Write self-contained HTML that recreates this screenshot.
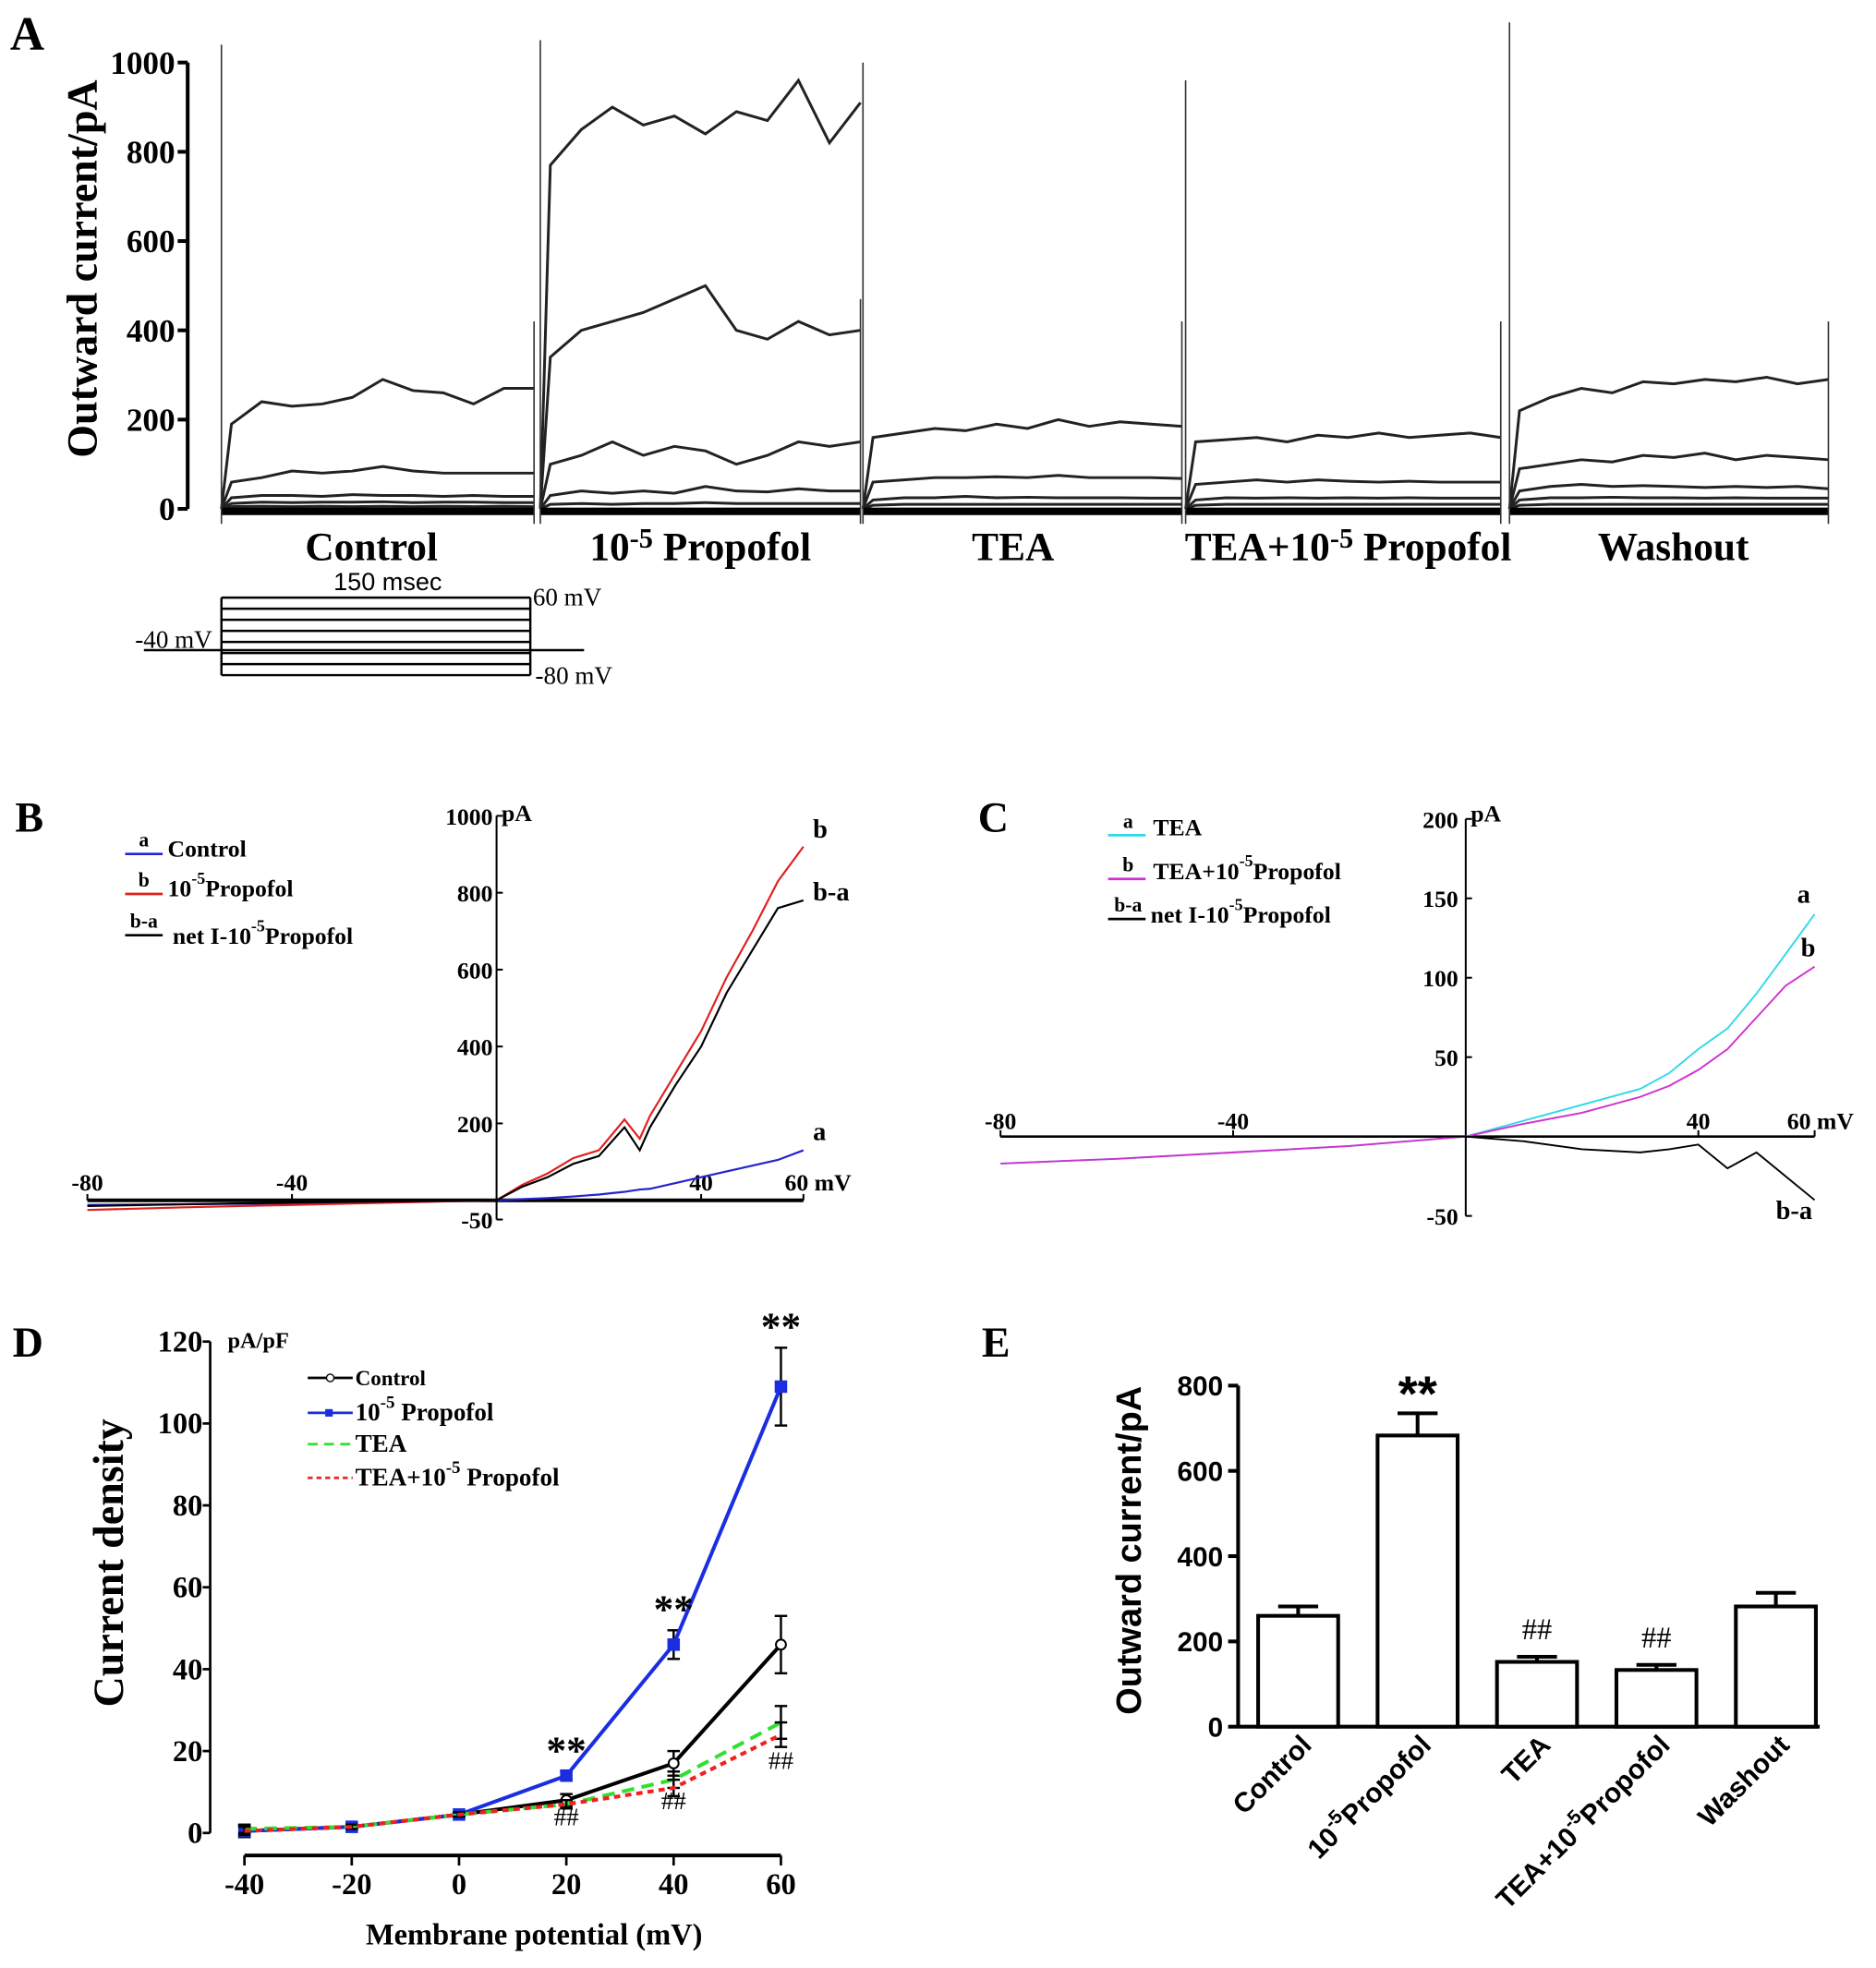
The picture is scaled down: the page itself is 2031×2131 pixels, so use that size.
<!DOCTYPE html>
<html><head><meta charset="utf-8">
<style>
html,body{margin:0;padding:0;background:#fff;}
svg{display:block;font-family:"Liberation Serif",serif;}
.b{font-weight:bold;}
</style></head>
<body>
<svg id="fig" width="2031" height="2131" viewBox="0 0 1500 1574" xmlns="http://www.w3.org/2000/svg">
<rect width="1500" height="1574" fill="#fff"/>
<text x="8" y="40" font-size="38" class="b">A</text>
<text x="12" y="665" font-size="34" class="b">B</text>
<text x="782" y="665" font-size="34" class="b">C</text>
<text x="10" y="1085" font-size="34" class="b">D</text>
<text x="785" y="1085" font-size="34" class="b">E</text>
<g id="A"></g>
<g id="B"></g>
<g id="C"></g>
<g id="D"></g>
<g id="E"></g>
</svg>
<script>
// ---------- Panel A data ----------
const aSegments = ["Control","10-5 Propofol","TEA","TEA+10-5 Propofol","Washout"];
const aTicks = [0,200,400,600,800,1000];
const aTraceControl = [[0,190,240,230,235,250,290,265,260,235,270,270],[0,60,70,85,80,85,95,85,80,80,80,80],[0,25,30,30,28,32,30,30,28,30,28,28],[0,12,15,14,15,15,16,14,15,15,14,14],[0,5,6,5,6,5,6,5,6,5,6,5]];
const aTracePropofol = [[0,770,850,900,860,880,840,890,870,960,820,910],[0,340,400,420,440,470,500,400,380,420,390,400],[0,100,120,150,120,140,130,100,120,150,140,150],[0,30,40,35,40,35,50,40,38,45,40,40],[0,10,12,10,12,12,14,12,12,12,12,12]];
const aTraceTEA = [[0,160,170,180,175,190,180,200,185,195,190,185],[0,60,65,70,70,72,70,75,70,70,70,68],[0,20,25,25,28,25,26,25,25,25,24,24],[0,8,10,10,10,10,10,10,10,10,10,10]];
const aTraceTEAP = [[0,150,155,160,150,165,160,170,160,165,170,160],[0,55,60,65,60,65,62,60,62,60,60,60],[0,20,25,24,25,24,25,24,25,24,24,24],[0,8,10,10,10,10,10,10,10,10,10,10]];
const aTraceWash = [[0,220,250,270,260,285,280,290,285,295,280,290],[0,90,100,110,105,120,115,125,110,120,115,110],[0,40,50,55,50,52,50,48,50,48,50,45],[0,20,25,25,26,25,25,24,25,24,24,24],[0,8,10,10,10,10,10,10,10,10,10,10]];
const aSpikeTop = [1040,1050,1000,960,1090];
// ---------- Panel B data ----------
const bV = [-80,-60,-40,-20,0,5,10,15,20,25,28,30,35,40,45,50,55,60];
const bControl = [-12,-10,-8,-5,0,3,6,10,15,22,28,30,45,60,75,90,105,130];
const bPropofol = [-25,-18,-12,-6,0,40,70,110,130,210,160,220,330,440,580,700,830,920];
const bNet = [-15,-10,-6,-3,0,35,60,95,115,190,130,190,300,400,540,650,760,780];
const bTicks = [-50,200,400,600,800,1000];
const bXTicks = [-80,-40,40,60];
// ---------- Panel C data ----------
const cV = [-80,-60,-40,-20,0,10,20,30,35,40,45,50,55,60];
const cTEA = [-17,-14,-10,-6,0,10,20,30,40,55,68,90,115,140];
const cTEAP = [-17,-14,-10,-6,0,8,15,25,32,42,55,75,95,107];
const cNet = [0,0,0,0,0,-3,-8,-10,-8,-5,-20,-10,-25,-40];
const cTicks = [-50,50,100,150,200];
const cXTicks = [-80,-40,40,60];
// ---------- Panel D data ----------
const dV = [-40,-20,0,20,40,60];
const dControl = [0.5,1.5,4.5,8,17,46];
const dControlErr = [1.5,0.5,0.5,1.5,3,7];
const dPropofol = [0.5,1.5,4.5,14,46,109];
const dPropofolErr = [1.5,0.5,0.5,1,3.5,9.5];
const dTEA = [1,1.5,4.5,7,13,27];
const dTEAErr = [1,0.5,0.5,1,2,4];
const dTEAP = [0.5,1.5,4.5,7,11,24];
const dTEAPErr = [1,0.5,0.5,1,2,3];
const dYTicks = [0,20,40,60,80,100,120];
// ---------- Panel E data ----------
const eCats = ["Control","10-5Propofol","TEA","TEA+10-5Propofol","Washout"];
const eVals = [260,683,152,133,282];
const eErrs = [22,52,12,12,32];
const eTicks = [0,200,400,600,800];

const NS="http://www.w3.org/2000/svg";
function mk(tag,parent,attrs){const e=document.createElementNS(NS,tag);for(const k in attrs)e.setAttribute(k,attrs[k]);parent.appendChild(e);return e;}
function txt(parent,x,y,s,size,anchor,extra){const t=mk('text',parent,Object.assign({x:x,y:y,'font-size':size,'text-anchor':anchor||'start','font-weight':'bold'},extra||{}));t.textContent=s;return t;}
function sup(t,base,supS,rest){t.textContent='';t.appendChild(document.createTextNode(base));const s=document.createElementNS(NS,'tspan');s.setAttribute('dy','-10');s.setAttribute('font-size','0.7em');s.textContent=supS;t.appendChild(s);const r=document.createElementNS(NS,'tspan');r.setAttribute('dy','10');r.textContent=rest;t.appendChild(r);}
function path(parent,pts,attrs){return mk('path',parent,Object.assign({d:'M'+pts.map(p=>p[0].toFixed(1)+','+p[1].toFixed(1)).join('L'),fill:'none'},attrs));}

// ================= Panel A =================
(function(){
const g=document.getElementById('A');
const y=v=>407-v*0.357;
const ax=mk('line',g,{x1:150,y1:y(0),x2:150,y2:y(1000),stroke:'#000','stroke-width':3});


aTicks.forEach(v=>{
  const tk=mk('line',g,{x1:142,y1:y(v),x2:150,y2:y(v),stroke:'#000','stroke-width':3});
  
  
  const t=txt(g,140,y(v)+9,String(v),26,'end');
  
  
});
const yt=txt(g,0,0,'Outward current/pA',34,'middle',{transform:'translate(77,215) rotate(-90)'});


const segX=[[177,427],[432,688],[690,945],[948,1200],[1207,1462]];
const traces=[aTraceControl,aTracePropofol,aTraceTEA,aTraceTEAP,aTraceWash];
traces.forEach((set,si)=>{
  const [x0,x1]=segX[si];
  set.forEach(arr=>{
    const pts=arr.map((v,i)=>[x0+ (i===0?0:(i===1?8:8+(i-1)*(x1-x0-8)/(arr.length-2))),y(v)]);
    const p=path(g,pts,{stroke:'#222','stroke-width':2.2});
    
    
  });
  const base=path(g,[[x0,y(0)+2],[x1,y(0)+2]],{stroke:'#000','stroke-width':6});
  
  
  const sp=mk('line',g,{x1:x0,y1:y(0)+12,x2:x0,y2:y(aSpikeTop[si]),stroke:'#333','stroke-width':1.2});
  
  
  const sp2=mk('line',g,{x1:x1,y1:y(0)+12,x2:x1,y2:y(si===1?470:420),stroke:'#333','stroke-width':1.2});
  
  
});
const labX=[297,560,810,1078,1338];
const l0=txt(g,labX[0],448,'Control',32,'middle');
const l1=txt(g,labX[1],448,'',32,'middle');sup(l1,'10','-5',' Propofol');
const l2=txt(g,labX[2],448,'TEA',32,'middle');
const l3=txt(g,labX[3],448,'',32,'middle');sup(l3,'TEA+10','-5',' Propofol');
const l4=txt(g,labX[4],448,'Washout',32,'middle');
const pr=mk('g',g,{});


for(let i=0;i<8;i++){const yy=478+i*(62/7);mk('line',pr,{x1:177,y1:yy,x2:424,y2:yy,stroke:'#000','stroke-width':1.8});}
mk('line',pr,{x1:177,y1:478,x2:177,y2:540,stroke:'#000','stroke-width':1.8});
mk('line',pr,{x1:424,y1:478,x2:424,y2:540,stroke:'#000','stroke-width':1.8});
mk('line',pr,{x1:115,y1:520,x2:467,y2:520,stroke:'#000','stroke-width':1.8});
txt(pr,310,472,'150 msec',20,'middle',{'font-weight':'normal','font-family':'Liberation Sans, sans-serif'});
txt(pr,426,484,'60 mV',20,'start',{'font-weight':'normal'});
txt(pr,428,547,'-80 mV',20,'start',{'font-weight':'normal'});
txt(pr,108,518,'-40 mV',20,'start',{'font-weight':'normal'});
})();

// ================= Panel B =================
(function(){
const g=document.getElementById('B');
const X=v=>397+v*4.09, Y=v=>960-v*0.3075;
const ya=mk('line',g,{x1:X(0),y1:Y(1000),x2:X(0),y2:Y(-50),stroke:'#000','stroke-width':1.5});

const xa=mk('line',g,{x1:X(-80),y1:Y(0),x2:X(60),y2:Y(0),stroke:'#000','stroke-width':3});

bTicks.forEach(v=>{mk('line',g,{x1:X(0),y1:Y(v),x2:X(0)+5,y2:Y(v),stroke:'#000','stroke-width':1.5});
 const t=txt(g,X(0)-3,Y(v)+7,String(v),19,'end');});
txt(g,X(0)+4,Y(1000)+4,'pA',19,'start');
bXTicks.forEach(v=>{mk('line',g,{x1:X(v),y1:Y(0),x2:X(v),y2:Y(0)-5,stroke:'#000','stroke-width':1.5});
 const t=txt(g,X(v),Y(0)-8,v===60?'60 mV':String(v),19,v===60?'start':'middle',v===60?{x:X(v)-15}:{});});
const series=[[bControl,'#2323d0','b-control-curve'],[bPropofol,'#e02020','b-propofol-curve'],[bNet,'#000','b-net-curve']];
series.forEach(s=>{const p=path(g,bV.map((v,i)=>[X(v),Y(s[0][i])]),{stroke:s[1],'stroke-width':1.6});
 });
txt(g,650,670,'b',21,'start');txt(g,650,720,'b-a',21,'start');txt(g,650,912,'a',21,'start');
const leg=[['a','Control','#2323d0',680],['b','10-5Propofol','#e02020',712],['b-a','net I-10-5Propofol','#000',745]];
leg.forEach(l=>{const le=mk('g',g,{});
 mk('line',le,{x1:100,y1:l[3]+3,x2:130,y2:l[3]+3,stroke:l[2],'stroke-width':2});
 txt(le,115,l[3]-3,l[0],16,'middle');
 const t=txt(le,l[0]==='b-a'?138:134,l[3]+(l[0]==='b-a'?10:5),'',19,'start');
 if(l[1]==='Control')t.textContent='Control';else if(l[0]==='b')sup(t,'10','-5','Propofol');else sup(t,'net I-10','-5','Propofol');});
})();

// ================= Panel C =================
(function(){
const g=document.getElementById('C');
const X=v=>1172+v*4.65, Y=v=>909-v*1.27;
const ya=mk('line',g,{x1:X(0),y1:Y(200),x2:X(0),y2:Y(-50),stroke:'#000','stroke-width':1.5});

const xa=mk('line',g,{x1:X(-80),y1:Y(0),x2:X(60),y2:Y(0),stroke:'#000','stroke-width':2});

cTicks.forEach(v=>{mk('line',g,{x1:X(0),y1:Y(v),x2:X(0)+5,y2:Y(v),stroke:'#000','stroke-width':1.5});
 const t=txt(g,X(0)-6,Y(v)+7,String(v),19,'end');});
txt(g,X(0)+4,Y(200)+2,'pA',19,'start');
cXTicks.forEach(v=>{mk('line',g,{x1:X(v),y1:Y(0),x2:X(v),y2:Y(0)-5,stroke:'#000','stroke-width':1.5});
 const t=txt(g,v===60?X(v)-22:X(v),Y(0)-6,v===60?'60 mV':String(v),19,v===60?'start':'middle');});
const series=[[cTEA,'#30d8e8','c-tea-curve'],[cTEAP,'#d030d0','c-tea-propofol-curve'],[cNet,'#000','c-net-curve']];
series.forEach(s=>{const p=path(g,cV.map((v,i)=>[X(v),Y(s[0][i])]),{stroke:s[1],'stroke-width':1.4});
 });
txt(g,1437,722,'a',21,'start');txt(g,1440,765,'b',21,'start');txt(g,1420,975,'b-a',21,'start');
const leg=[['a','TEA','#30d8e8',665],['b','TEA+10-5Propofol','#d030d0',700],['b-a','net  I-10-5Propofol','#000',732]];
leg.forEach(l=>{const le=mk('g',g,{});
 mk('line',le,{x1:886,y1:l[3]+3,x2:916,y2:l[3]+3,stroke:l[2],'stroke-width':2});
 txt(le,902,l[3]-3,l[0],16,'middle');
 const t=txt(le,l[0]==='b-a'?920:922,l[3]+(l[0]==='b-a'?6:3),'',19,'start');
 if(l[0]==='a')t.textContent='TEA';else if(l[0]==='b')sup(t,'TEA+10','-5','Propofol');else sup(t,'net  I-10','-5','Propofol');});
})();

// ================= Panel D =================
(function(){
const g=document.getElementById('D');
const X=v=>367+v*4.29, Y=v=>1466-v*3.275;
const ya=mk('line',g,{x1:168,y1:Y(120),x2:168,y2:Y(0),stroke:'#000','stroke-width':2});

const xa=mk('line',g,{x1:X(-40),y1:1484,x2:X(60),y2:1484,stroke:'#000','stroke-width':3});

dYTicks.forEach(v=>{mk('line',g,{x1:162,y1:Y(v),x2:168,y2:Y(v),stroke:'#000','stroke-width':2});
 const t=txt(g,162,Y(v)+8,String(v),24,'end');});
txt(g,182,1078,'pA/pF',18,'start');
dV.forEach(v=>{mk('line',g,{x1:X(v),y1:1484,x2:X(v),y2:1492,stroke:'#000','stroke-width':2});
 const t=txt(g,X(v),1515,String(v),24,'middle');});
const yt=txt(g,0,0,'Current density',34,'middle',{transform:'translate(98,1250) rotate(-90)'});

const xt=txt(g,427,1555,'Membrane potential (mV)',24,'middle');

const series=[[dControl,dControlErr,'#000','',  'd-control-series','circle'],
 [dPropofol,dPropofolErr,'#1a2ee0','','d-propofol-series','square'],
 [dTEA,dTEAErr,'#30e030','10,6','d-tea-series','tri'],
 [dTEAP,dTEAPErr,'#f02020','5,4','d-tea-propofol-series','x']];
series.forEach(s=>{
 const sg=mk('g',g,{});
 dV.forEach((v,i)=>{const e=mk('g',sg,{stroke:'#000','stroke-width':1.8});
  mk('line',e,{x1:X(v),y1:Y(s[0][i]+s[1][i]),x2:X(v),y2:Y(s[0][i]-s[1][i])});
  mk('line',e,{x1:X(v)-5,y1:Y(s[0][i]+s[1][i]),x2:X(v)+5,y2:Y(s[0][i]+s[1][i])});
  mk('line',e,{x1:X(v)-5,y1:Y(s[0][i]-s[1][i]),x2:X(v)+5,y2:Y(s[0][i]-s[1][i])});});
 path(sg,dV.map((v,i)=>[X(v),Y(s[0][i])]),{stroke:s[2],'stroke-width':3,'stroke-dasharray':s[3]||'none'});
 dV.forEach((v,i)=>{const cx=X(v),cy=Y(s[0][i]);
  if(s[5]==='circle')mk('circle',sg,{cx:cx,cy:cy,r:4,fill:'#fff',stroke:'#000','stroke-width':1.5});
  else if(s[5]==='square')mk('rect',sg,{x:cx-5,y:cy-5,width:10,height:10,fill:s[2]});});
});
[[20,14,1],[40,46,3.5],[60,109,9.5]].forEach(a=>{const t=txt(g,X(a[0]),Y(a[1]+a[2])-6,'**',32,'middle');});
[[20,1460],[40,1447],[60,1415]].forEach(a=>{const t=txt(g,X(a[0]),a[1],'##',20,'middle',{'font-weight':'normal'});});
const leg=[['Control','#000','',1102],['10-5 Propofol','#1a2ee0','',1130],['TEA','#30e030','8,5',1155],['TEA+10-5 Propofol','#f02020','4,3',1182]];
leg.forEach((l,i)=>{const le=mk('g',g,{});
 mk('line',le,{x1:246,y1:l[3],x2:282,y2:l[3],stroke:l[1],'stroke-width':2,'stroke-dasharray':l[2]||'none'});
 if(i===0)mk('circle',le,{cx:264,cy:l[3],r:3,fill:'#fff',stroke:'#000'});
 if(i===1)mk('rect',le,{x:260,y:l[3]-3,width:6,height:6,fill:l[1]});
 const t=txt(le,284,l[3]+6,'',i===0?17:20,'start');
 if(i===0)t.textContent='Control';else if(i===2)t.textContent='TEA';else if(i===1)sup(t,'10','-5',' Propofol');else sup(t,'TEA+10','-5',' Propofol');});
})();

// ================= Panel E =================
(function(){
const g=document.getElementById('E');
const Y=v=>1381-v*0.341;
const ya=mk('line',g,{x1:990,y1:Y(800),x2:990,y2:Y(0),stroke:'#000','stroke-width':3});

const xa=mk('line',g,{x1:990,y1:Y(0),x2:1455,y2:Y(0),stroke:'#000','stroke-width':3});

eTicks.forEach(v=>{mk('line',g,{x1:982,y1:Y(v),x2:990,y2:Y(v),stroke:'#000','stroke-width':3});
 const t=txt(g,978,Y(v)+8,String(v),22,'end',{'font-family':'Liberation Sans, sans-serif'});});
const yt=txt(g,0,0,'Outward current/pA',28,'middle',{transform:'translate(912,1240) rotate(-90)','font-family':'Liberation Sans, sans-serif'});

const cx=i=>1038+i*95.5;
eCats.forEach((c,i)=>{
 const err=mk('g',g,{stroke:'#000','stroke-width':3});
 
 mk('line',err,{x1:cx(i),y1:Y(eVals[i]),x2:cx(i),y2:Y(eVals[i]+eErrs[i])});
 mk('line',err,{x1:cx(i)-16,y1:Y(eVals[i]+eErrs[i]),x2:cx(i)+16,y2:Y(eVals[i]+eErrs[i])});
 const r=mk('rect',g,{x:cx(i)-32,y:Y(eVals[i]),width:64,height:Y(0)-Y(eVals[i]),fill:'#fff',stroke:'#000','stroke-width':3});
 
 const t=txt(g,0,0,'',22,'end',{transform:'translate('+(cx(i)+12)+','+(Y(0)+16)+') rotate(-45)','font-family':'Liberation Sans, sans-serif'});
 if(c.indexOf('10-5')>=0){const parts=c.split('10-5');sup(t,parts[0]+'10','-5',parts[1]);}else t.textContent=c;
 
});
const s=txt(g,cx(1),Y(eVals[1]+eErrs[1])-2,'**',40,'middle',{'font-family':'Liberation Sans, sans-serif'});

[2,3].forEach(i=>{const h=txt(g,cx(i),Y(eVals[i]+eErrs[i])-14,'##',24,'middle',{'font-weight':'normal'});});
})();
</script>
</body></html>
